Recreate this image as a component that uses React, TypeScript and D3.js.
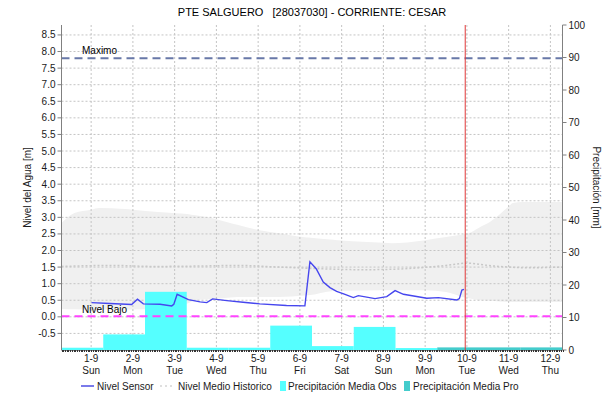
import React from "react";
import * as d3 from "d3";

const W = 608;
const H = 402;

const title = "PTE SALGUERO   [28037030] - CORRIENTE: CESAR";
const dayTicks = [1, 2, 3, 4, 5, 6, 7, 8, 9, 10, 11, 12];
const dayLabels = ["1-9", "2-9", "3-9", "4-9", "5-9", "6-9", "7-9", "8-9", "9-9", "10-9", "11-9", "12-9"];
const weekdayLabels = ["Sun", "Mon", "Tue", "Wed", "Thu", "Fri", "Sat", "Sun", "Mon", "Tue", "Wed", "Thu"];
const leftTicks = [-0.5, 0, 0.5, 1, 1.5, 2, 2.5, 3, 3.5, 4, 4.5, 5, 5.5, 6, 6.5, 7, 7.5, 8, 8.5];
const rightTicks = [0, 10, 20, 30, 40, 50, 60, 70, 80, 90, 100];

// time in days (day-of-September, fractional)
const sensorT = [1.01, 1.45, 1.97, 2.11, 2.25, 2.65, 2.93, 2.98, 3.06, 3.33, 3.61, 3.77, 3.91, 4.25, 4.64, 5.04, 5.68, 6.12, 6.24, 6.39, 6.56, 6.72, 6.88, 7.08, 7.28, 7.4, 7.8, 8.08, 8.28, 8.48, 9.04, 9.32, 9.76, 9.82, 9.88, 9.93];
const sensorV = [0.43, 0.4, 0.37, 0.53, 0.39, 0.38, 0.33, 0.38, 0.68, 0.52, 0.45, 0.43, 0.54, 0.49, 0.44, 0.39, 0.34, 0.33, 1.66, 1.45, 1.05, 0.88, 0.77, 0.68, 0.58, 0.64, 0.55, 0.61, 0.79, 0.68, 0.56, 0.58, 0.51, 0.55, 0.81, 0.83];

const bandUpperT = [0.29, 0.6, 1.2, 1.8, 2.6, 3.3, 3.8, 4.33, 5.0, 6.12, 7.0, 8.2, 8.95, 10.0, 10.55, 11.1, 11.34, 12.29];
const bandUpperV = [2.83, 3.13, 3.28, 3.25, 3.16, 3.1, 3.0, 2.83, 2.62, 2.4, 2.3, 2.22, 2.3, 2.5, 2.86, 3.43, 3.46, 3.46];
const bandLowerT = [0.29, 1.0, 2.0, 3.0, 3.5, 4.5, 5.5, 6.2, 6.8, 8.0, 9.0, 9.5, 9.9, 10.3, 11.0, 12.29];
const bandLowerV = [0.24, 0.22, 0.22, 0.25, 0.5, 0.6, 0.6, 0.65, 0.78, 0.8, 0.8, 0.75, 0.6, 0.5, 0.45, 0.45];

const meanT = [0.29, 1.5, 2.5, 3.5, 4.5, 5.5, 6.5, 7.5, 8.5, 9.5, 10.0, 10.5, 11.5, 12.29];
const meanV = [1.52, 1.55, 1.52, 1.53, 1.55, 1.5, 1.45, 1.42, 1.45, 1.55, 1.62, 1.55, 1.48, 1.5];

const precipStart = [0.29, 1.29, 2.29, 3.29, 4.29, 5.29, 6.29, 7.29, 8.29, 9.29, 10.29, 11.29];
const precipObs = [0.7, 4.8, 17.9, 0.7, 0.7, 7.5, 1.2, 7.1, 0.6, 0, 0, 0];
const precipPro = [0, 0, 0, 0, 0, 0, 0, 0, 0, 0.8, 0.8, 0.8];

const maximo = 7.8;
const nivelBajo = 0.02;
const nowDay = 9.96;
const tStart = 0.29;
const tEnd = 12.29;

const legendItems = ["Nivel Sensor", "Nivel Medio Historico", "Precipitación Media Obs", "Precipitación Media Pro"];

const FONT = "'Liberation Sans', Arial, sans-serif";
const TXT = "#1a1a1a";

export default function App() {
  const left = 61.5, right = 562.5, top = 25, bottom = 350;
  const x = d3.scaleLinear().domain([tStart, tEnd]).range([left, right]);
  const yL = d3.scaleLinear().domain([-1.0, 8.8]).range([bottom, top]);
  const yR = d3.scaleLinear().domain([0, 100]).range([bottom, top]);

  const interp = (ts: number[], vs: number[]) => (t: number) => {
    const i = d3.bisectLeft(ts, t);
    if (i <= 0) return vs[0];
    if (i >= ts.length) return vs[vs.length - 1];
    const t0 = ts[i - 1], t1 = ts[i];
    return vs[i - 1] + (vs[i] - vs[i - 1]) * (t - t0) / (t1 - t0);
  };
  const upperInterp = interp(bandUpperT, bandUpperV);
  const lowerInterp = interp(bandLowerT, bandLowerV);
  const allT = Array.from(new Set([...bandUpperT, ...bandLowerT])).sort((a, b) => a - b);
  const bandArea = d3.area<number>()
    .x((t) => x(t))
    .y0((t) => yL(lowerInterp(t)))
    .y1((t) => yL(upperInterp(t)))
    .curve(d3.curveMonotoneX);

  const sensorLine = d3.line<number>().x((_, i) => x(sensorT[i])).y((v) => yL(v));
  const meanLine = d3.line<number>().x((_, i) => x(meanT[i])).y((v) => yL(v)).curve(d3.curveMonotoneX);

  const hours = d3.range(0, 12 * 24 + 1).map((h) => tStart + h / 24);

  return (
    <svg width={W} height={H} style={{ display: "block", position: "absolute", left: 0, top: 0 }} fontFamily={FONT}>
      <rect x={0} y={0} width={W} height={H} fill="#ffffff" />
      <text x={312} y={16} textAnchor="middle" fontSize={11} fill="#000" style={{ whiteSpace: "pre" }}>{title}</text>

      <clipPath id="plotclip"><rect x={left} y={top} width={right - left} height={bottom - top} /></clipPath>
      <g clipPath="url(#plotclip)">
        <path d={bandArea(allT) || ""} fill="#f0f0f0" />
        {leftTicks.map((v) => (
          <line key={"hg" + v} x1={left} x2={right} y1={yL(v)} y2={yL(v)} stroke="#c4c4c4" strokeDasharray="2,2" />
        ))}
        {dayTicks.map((d) => (
          <line key={"vg" + d} x1={x(d)} x2={x(d)} y1={top} y2={bottom} stroke="#c4c4c4" strokeDasharray="2,2" />
        ))}
        {precipStart.map((s, i) => precipObs[i] > 0 ? (
          <rect key={"po" + i} x={x(s)} width={x(s + 1) - x(s)} y={yR(precipObs[i])} height={yR(0) - yR(precipObs[i])} fill="#55ffff" />
        ) : null)}
        {precipStart.map((s, i) => precipPro[i] > 0 ? (
          <rect key={"pp" + i} x={x(s)} width={x(s + 1) - x(s)} y={yR(precipPro[i])} height={yR(0) - yR(precipPro[i])} fill="#44cccc" />
        ) : null)}
        <path d={meanLine(meanV) || ""} fill="none" stroke="#c8c8c8" strokeWidth={1.5} strokeDasharray="2,2" />
        <line x1={left} x2={right} y1={yL(maximo)} y2={yL(maximo)} stroke="#6878a8" strokeWidth={2} strokeDasharray="8,5" />
        <line x1={left} x2={right} y1={yL(nivelBajo)} y2={yL(nivelBajo)} stroke="#ff44ff" strokeWidth={2} strokeDasharray="8,5" />
        <path d={sensorLine(sensorV) || ""} fill="none" stroke="#4646ee" strokeWidth={1.4} />
        <line x1={x(nowDay)} x2={x(nowDay)} y1={top} y2={bottom} stroke="#e03838" strokeWidth={1} />
      </g>
      <text x={82} y={yL(maximo) - 4} fontSize={10} fill="#000">Maximo</text>
      <text x={82} y={yL(nivelBajo) - 3} fontSize={10} fill="#000">Nivel Bajo</text>

      {/* left axis */}
      <line x1={left} x2={left} y1={top} y2={bottom} stroke="#808080" />
      {leftTicks.map((v) => (
        <g key={"lt" + v}>
          <line x1={left - 4} x2={left} y1={yL(v)} y2={yL(v)} stroke="#808080" />
          <text x={left - 6} y={yL(v) + 3.5} textAnchor="end" fontSize={10} fill={TXT}>{v.toFixed(1)}</text>
        </g>
      ))}
      <text transform={`translate(31,${(top + bottom) / 2}) rotate(-90)`} textAnchor="middle" fontSize={10} fill={TXT}>Nivel del Agua [m]</text>

      {/* right axis */}
      <line x1={right} x2={right} y1={top} y2={bottom} stroke="#808080" />
      {rightTicks.map((v) => (
        <g key={"rt" + v}>
          <line x1={right} x2={right + 4} y1={yR(v)} y2={yR(v)} stroke="#808080" />
          <text x={right + 6} y={yR(v) + 3.5} textAnchor="start" fontSize={10} fill={TXT}>{v}</text>
        </g>
      ))}
      <text transform={`translate(593,${(top + bottom) / 2}) rotate(90)`} textAnchor="middle" fontSize={10} fill={TXT}>Precipitación [mm]</text>

      {/* bottom axis */}
      <line x1={left} x2={right} y1={bottom + 0.5} y2={bottom + 0.5} stroke="#808080" />
      {hours.map((h, i) => (
        <line key={"hr" + i} x1={Math.round(x(h)) + 0.5} x2={Math.round(x(h)) + 0.5} y1={bottom} y2={bottom + 2} stroke="#333" />
      ))}
      {dayTicks.map((d, i) => (
        <g key={"dl" + d}>
          <text x={x(d)} y={bottom + 12} textAnchor="middle" fontSize={10} fill={TXT}>{dayLabels[i]}</text>
          <text x={x(d)} y={bottom + 23.5} textAnchor="middle" fontSize={10} fill={TXT}>{weekdayLabels[i]}</text>
        </g>
      ))}

      {/* legend */}
      <g>
        <line x1={81} x2={94} y1={386} y2={386} stroke="#2222dd" strokeWidth={1.2} />
        <text x={97} y={390} fontSize={10} fill={TXT}>{legendItems[0]}</text>
        <line x1={160} x2={174} y1={386} y2={386} stroke="#c0c0c0" strokeWidth={1.2} strokeDasharray="2,3" />
        <text x={178} y={390} fontSize={10} fill={TXT}>{legendItems[1]}</text>
        <rect x={280} y={381} width={6} height={10} fill="#55ffff" />
        <text x={288} y={390} fontSize={10} fill={TXT}>{legendItems[2]}</text>
        <rect x={404} y={381} width={6} height={10} fill="#44cccc" />
        <text x={413} y={390} fontSize={10} fill={TXT}>{legendItems[3]}</text>
      </g>
    </svg>
  );
}
